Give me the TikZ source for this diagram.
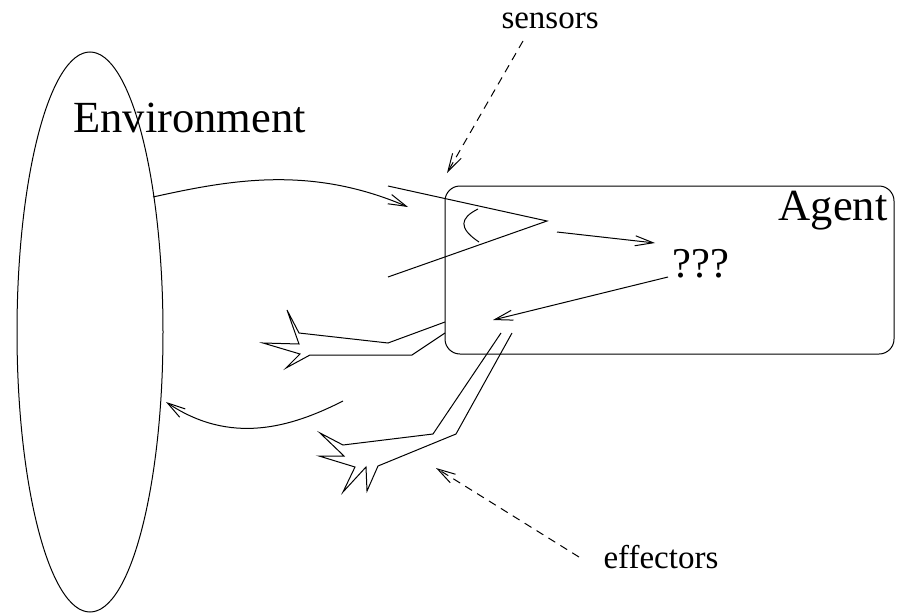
\documentclass[tikz,border=0pt]{standalone}
\usepackage{fontspec}
\setmainfont{Liberation Serif}
\usetikzlibrary{arrows.meta,shapes.geometric}
\begin{document}
\begin{tikzpicture}[x=1pt,y=-1pt,line width=1pt,
  barb/.style={-{Straight Barb[length=18pt,width=10pt,line width=1pt]}},
  dashline/.style={barb,dash pattern=on 8pt off 6pt},
  lbl/.style={inner sep=0pt,font=\fontsize{33}{33}\selectfont},
  big/.style={inner sep=0pt,font=\fontsize{44.5}{44.5}\selectfont},
  thing/.style={line join=miter}]
\useasboundingbox (0,0) rectangle (897,613);
% environment and agent
\node[draw,ellipse,minimum width=146pt,minimum height=560pt,inner sep=0pt] (env) at (90,332) {};
\node[draw,rounded corners=15pt,minimum width=449pt,minimum height=168pt,inner sep=0pt] (agentbox) at (669.5,270) {};
\node[big,anchor=base west] (envlbl) at (73,132) {Environment};
\node[big,anchor=base east] (agentlbl) at (888,220) {Agent};
\node[inner sep=0pt,font=\fontsize{42.5}{42.5}\selectfont,anchor=base west] (qqq) at (672,277) {???};
\node[lbl,anchor=base west] (sens) at (501,28) {sensors};
\node[lbl,anchor=base west] (eff) at (603,568) {effectors};
% coordinates
\coordinate (e1) at (153,197);
\coordinate (s1) at (408,207);
\coordinate (eyeA) at (547,221);
\coordinate (eyeT) at (388,186);
\coordinate (eyeB) at (388,277);
\coordinate (a1) at (557,232);
\coordinate (a2) at (655,243);
\coordinate (q1) at (668,277);
\coordinate (q2) at (493,320);
\coordinate (b1) at (343,401);
\coordinate (b2) at (166,402);
\coordinate (ds1) at (523,41);
\coordinate (ds2) at (447,173);
\coordinate (de1) at (579,557);
\coordinate (de2) at (436,468);
% sensor eye
\draw[thing] (eyeT) -- (eyeA) -- (eyeB);
\draw (478,209) .. controls (460,218) and (458,228) .. (479,242);
% arrows
\draw[barb] (e1) .. controls (230,180) and (310,165) .. (s1);
\draw[barb] (a1) -- (a2);
\draw[barb] (q1) -- (q2);
\draw[barb] (b1) .. controls (290,428) and (230,445) .. (b2);
\draw[dashline] (ds1) -- (ds2);
\draw[dashline] (de1) -- (de2);
% effector claws
\draw[thing] (445,322) -- (388,343) -- (299,333) -- (287,310) -- (299,344) -- (263,343) -- (300,354) -- (286,368) -- (310,355) -- (412,355) -- (445,333);
\draw[thing] (501,333) -- (433,434) -- (343,445) -- (320,433) -- (344,456) -- (319,456) -- (355,467) -- (343,492) -- (366,467) -- (367,491) -- (378,466) -- (456,434) -- (512,333);
\end{tikzpicture}
\end{document}
